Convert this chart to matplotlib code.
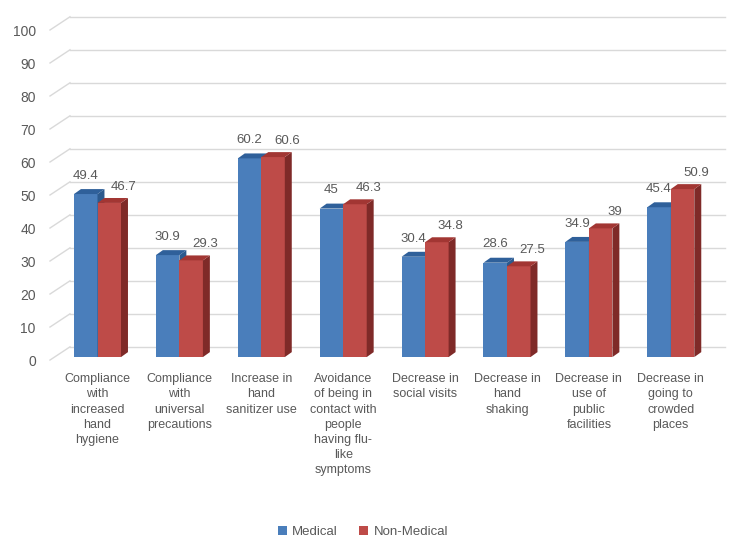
"""Preventive behaviours by group: 3D-style clustered columns (Medical vs Non-Medical)."""

import matplotlib
matplotlib.use("Agg")
import matplotlib.pyplot as plt
from matplotlib.patches import Polygon, Patch

CATEGORIES = [
    "Compliance\nwith\nincreased\nhand\nhygiene",
    "Compliance\nwith\nuniversal\nprecautions",
    "Increase in\nhand\nsanitizer use",
    "Avoidance\nof being in\ncontact with\npeople\nhaving flu-\nlike\nsymptoms",
    "Decrease in\nsocial visits",
    "Decrease in\nhand\nshaking",
    "Decrease in\nuse of\npublic\nfacilities",
    "Decrease in\ngoing to\ncrowded\nplaces",
]
MEDICAL = [49.4, 30.9, 60.2, 45, 30.4, 28.6, 34.9, 45.4]
NON_MEDICAL = [46.7, 29.3, 60.6, 46.3, 34.8, 27.5, 39, 50.9]
MEDICAL_LABELS = ["49.4", "30.9", "60.2", "45", "30.4", "28.6", "34.9", "45.4"]
NON_MEDICAL_LABELS = ["46.7", "29.3", "60.6", "46.3", "34.8", "27.5", "39", "50.9"]
Y_TICKS = list(range(0, 101, 10))

# face colours: front, top, side
BLUE = ("#4A7EBB", "#2F609A", "#2C5A8E")
RED = ("#BE4B48", "#A23633", "#7F2A28")

FONT = "Liberation Sans"
TEXT_COLOR = "#595959"
GRID_COLOR = "#D9D9D9"

# pseudo-3D geometry (data units)
BAR_W = 0.287
BAR_DX, BAR_DY = 0.085, 1.5       # bar depth
BAR_BASE = 0.9                     # bars sit a bit behind the front plane
WALL_DX, WALL_DY = 0.244, 4.0      # back wall offset
X_FRONT_LEFT, X_BACK_RIGHT = -0.58, 7.66


def draw_bar(ax, x0, value, colors):
    front, top, side = colors
    y0, y1 = BAR_BASE, BAR_BASE + value
    x1 = x0 + BAR_W
    ax.add_patch(Polygon([(x0, y0), (x1, y0), (x1, y1), (x0, y1)],
                         closed=True, facecolor=front, edgecolor="none", zorder=3))
    ax.add_patch(Polygon([(x1, y0), (x1 + BAR_DX, y0 + BAR_DY),
                          (x1 + BAR_DX, y1 + BAR_DY), (x1, y1)],
                         closed=True, facecolor=side, edgecolor="none", zorder=3))
    ax.add_patch(Polygon([(x0, y1), (x0 + BAR_DX, y1 + BAR_DY),
                          (x1 + BAR_DX, y1 + BAR_DY), (x1, y1)],
                         closed=True, facecolor=top, edgecolor="none", zorder=3))


def main():
    fig = plt.figure(figsize=(7.4, 5.46), dpi=100)
    ax = fig.add_axes([40 / 740, 1 - 365 / 546, 690 / 740, 355 / 546])
    ax.set_xlim((40 - 97.5) / 81.9, (730 - 97.5) / 81.9)
    ax.set_ylim(-1.5, 106.06)
    for s in ax.spines.values():
        s.set_visible(False)

    # back wall gridlines with diagonal floor/side connectors
    for v in Y_TICKS:
        ax.plot([X_FRONT_LEFT, X_FRONT_LEFT + WALL_DX], [v, v + WALL_DY],
                color=GRID_COLOR, lw=1, zorder=1)
        ax.plot([X_FRONT_LEFT + WALL_DX, X_BACK_RIGHT], [v + WALL_DY, v + WALL_DY],
                color=GRID_COLOR, lw=1, zorder=1)

    for i, (m, n) in enumerate(zip(MEDICAL, NON_MEDICAL)):
        draw_bar(ax, i - BAR_W, m, BLUE)
        draw_bar(ax, i, n, RED)
        ax.text(i - BAR_W / 2, BAR_BASE + m + BAR_DY + 2.2, MEDICAL_LABELS[i],
                ha="center", va="bottom", fontsize=9.5, color=TEXT_COLOR,
                family=FONT, zorder=4)
        ax.text(i + BAR_W / 2 + 0.17, BAR_BASE + n + BAR_DY + 1.6, NON_MEDICAL_LABELS[i],
                ha="center", va="bottom", fontsize=9.5, color=TEXT_COLOR,
                family=FONT, zorder=4)

    ax.set_yticks(Y_TICKS)
    ax.set_yticklabels([str(v) for v in Y_TICKS], fontsize=10, color=TEXT_COLOR, family=FONT)
    ax.tick_params(axis="y", length=0, pad=3)
    ax.set_xticks(range(len(CATEGORIES)))
    ax.set_xticklabels(CATEGORIES, fontsize=9, color=TEXT_COLOR, family=FONT,
                       linespacing=1.35, va="top")
    ax.tick_params(axis="x", length=0, pad=6)

    handles = [Patch(facecolor=BLUE[0], label="Medical"),
               Patch(facecolor=RED[0], label="Non-Medical")]
    fig.legend(handles=handles, loc="center", bbox_to_anchor=(363 / 740, 1 - 532 / 546),
               ncol=2, frameon=False, handlelength=0.7, handleheight=0.7,
               handletextpad=0.4, columnspacing=1.6,
               prop={"family": FONT, "size": 9.5}, labelcolor=TEXT_COLOR)

    fig.savefig("out.png", dpi=100)
    plt.close(fig)


if __name__ == "__main__":
    main()
